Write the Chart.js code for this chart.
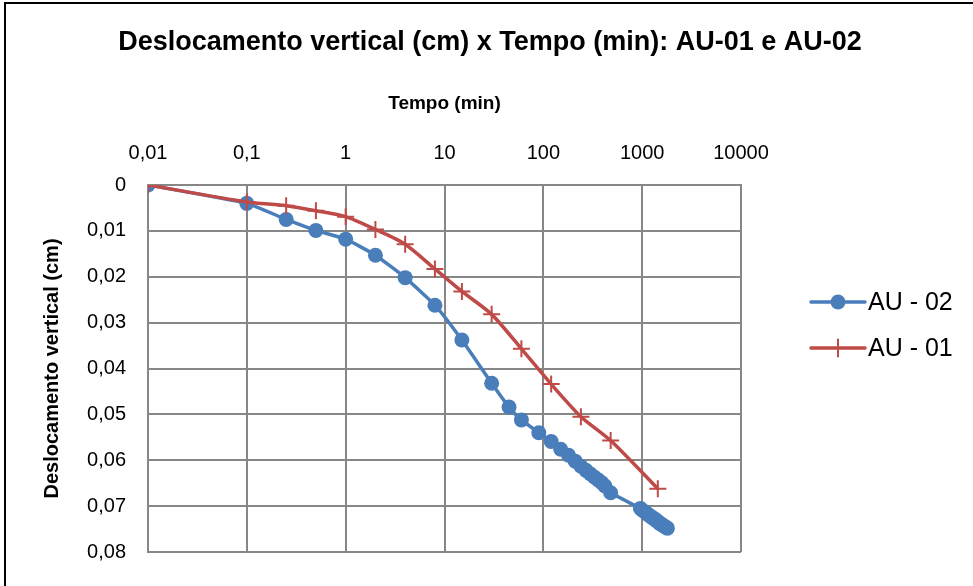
<!DOCTYPE html>
<html>
<head>
<meta charset="utf-8">
<script src="https://cdn.jsdelivr.net/npm/chart.js@4.4.1/dist/chart.umd.min.js"></script>
<style>
  html, body { margin: 0; padding: 0; background: #fff; }
  #wrap { width: 973px; height: 586px; }
</style>
</head>
<body>
<div id="wrap"><canvas id="grafico" width="973" height="586"></canvas></div>
<script>
// Tempo (min) x deslocamento (cm)
const tempoAU02 = [0.01, 0.1, 0.25, 0.5, 1, 2, 4, 8, 15, 30, 45, 60, 90, 120, 150, 180, 210, 240, 270, 300, 330, 360, 390, 420, 480, 960, 1020, 1080, 1140, 1200, 1260, 1320, 1380, 1440, 1500, 1560, 1620, 1680, 1740, 1800];
const deslocAU02 = [0, 0.0040, 0.0075, 0.0099, 0.0118, 0.0153, 0.0202, 0.0262, 0.0338, 0.0432, 0.0484, 0.0512, 0.0540, 0.0559, 0.0576, 0.0589, 0.0602, 0.0613, 0.0622, 0.0630, 0.0637, 0.0643, 0.0649, 0.0656, 0.0671, 0.0705, 0.0710, 0.0713, 0.0718, 0.0721, 0.0725, 0.0727, 0.0731, 0.0733, 0.0738, 0.0739, 0.0742, 0.0744, 0.0746, 0.0748];

const tempoAU01 = [0.01, 0.1, 0.25, 0.5, 1, 2, 4, 8, 15, 30, 60, 120, 240, 480, 1440];
const deslocAU01 = [0, 0.0037, 0.0045, 0.0056, 0.0069, 0.0097, 0.0129, 0.0183, 0.0232, 0.0282, 0.0357, 0.0434, 0.0505, 0.0557, 0.0662];

const xTickValues = [0.01, 0.1, 1, 10, 100, 1000, 10000];
const xTickLabels = ["0,01", "0,1", "1", "10", "100", "1000", "10000"];
const yTickValues = [0, 0.01, 0.02, 0.03, 0.04, 0.05, 0.06, 0.07, 0.08];
const yTickLabels = ["0", "0,01", "0,02", "0,03", "0,04", "0,05", "0,06", "0,07", "0,08"];

const titulo = "Deslocamento vertical (cm) x Tempo (min): AU-01 e AU-02";

const FONTE = '"Liberation Sans", Arial, sans-serif';
const AZUL = "#4A7EBB";
const VERMELHO = "#BE4B48";
const GRADE = "#878787";

function pontos(tempos, valores) {
  return tempos.map((t, i) => ({ x: t, y: valores[i] }));
}

// moldura (so esquerda e topo aparecem no recorte) + titulo centralizado
const moldura = {
  id: "moldura",
  beforeDraw(chart) {
    const ctx = chart.ctx;
    ctx.save();
    ctx.strokeStyle = "#000";
    ctx.lineWidth = 2;
    ctx.beginPath();
    ctx.moveTo(5, 586);
    ctx.lineTo(5, 3);
    ctx.lineTo(973, 3);
    ctx.stroke();

    ctx.fillStyle = "#000";
    ctx.font = "bold 27px " + FONTE;
    ctx.textAlign = "center";
    ctx.textBaseline = "middle";
    ctx.fillText(titulo, 490, 43);
    ctx.restore();
  },
};

// legenda desenhada a mao, na ordem AU - 02, AU - 01
const legenda = {
  id: "legenda",
  afterDraw(chart) {
    const ctx = chart.ctx;
    const itens = [
      { ds: chart.data.datasets[0], y: 302 },
      { ds: chart.data.datasets[1], y: 348 },
    ];
    ctx.save();
    itens.forEach(({ ds, y }) => {
      ctx.strokeStyle = ds.borderColor;
      ctx.lineWidth = ds.borderWidth;
      ctx.lineCap = "round";
      ctx.beginPath();
      ctx.moveTo(811, y);
      ctx.lineTo(865, y);
      ctx.stroke();
      ctx.fillStyle = ds.borderColor;
      ctx.lineWidth = ds.pointBorderWidth || 0.01;
      Chart.helpers.drawPoint(ctx, {
        pointStyle: ds.pointStyle,
        radius: ds.pointRadius,
        borderWidth: ds.pointBorderWidth,
        rotation: 0,
      }, 838, y);
      ctx.fillStyle = "#000";
      ctx.font = "25px " + FONTE;
      ctx.textAlign = "left";
      ctx.textBaseline = "middle";
      ctx.fillText(ds.label, 868, y + 1);
    });
    ctx.restore();
  },
};

const dsAU02 = {
  label: "AU - 02",
  data: pontos(tempoAU02, deslocAU02),
  borderColor: AZUL,
  backgroundColor: AZUL,
  borderWidth: 3.5,
  pointStyle: "circle",
  pointRadius: 7.5,
  pointBorderWidth: 0,
  pointBackgroundColor: AZUL,
  tension: 0.15,
  order: 1,
};
const dsAU01 = {
  label: "AU - 01",
  data: pontos(tempoAU01, deslocAU01),
  borderColor: VERMELHO,
  backgroundColor: VERMELHO,
  borderWidth: 3.5,
  pointStyle: "cross",
  pointRadius: 8.5,
  pointBorderWidth: 2,
  pointBorderColor: VERMELHO,
  tension: 0.25,
  order: 0,
};

const ctx = document.getElementById("grafico").getContext("2d");
const grafico = new Chart(ctx, {
  type: "line",
  data: { datasets: [dsAU02, dsAU01] },
  options: {
    responsive: false,
    devicePixelRatio: 1,
    animation: false,
    layout: { padding: { left: 0, top: 0, right: 232, bottom: 29 } },
    plugins: {
      legend: { display: false },
      tooltip: { enabled: false },
      title: { display: false },
    },
    scales: {
      x: {
        type: "logarithmic",
        position: "top",
        min: 0.01,
        max: 10000,
        afterBuildTicks(scale) {
          scale.ticks = xTickValues.map((v) => ({ value: v }));
        },
        afterFit(scale) {
          scale.height = 185;
        },
        ticks: {
          color: "#000",
          font: { family: FONTE, size: 20 },
          padding: 20,
          maxRotation: 0,
          autoSkip: false,
          callback: (v, i) => xTickLabels[i],
        },
        grid: { color: GRADE, lineWidth: 2, drawTicks: false },
        border: { color: GRADE, width: 2 },
        title: {
          display: true,
          text: "Tempo (min)",
          color: "#000",
          font: { family: FONTE, size: 19, weight: "bold" },
          padding: { top: 92, bottom: 0 },
        },
      },
      y: {
        type: "linear",
        reverse: true,
        min: 0,
        max: 0.08,
        afterBuildTicks(scale) {
          scale.ticks = yTickValues.map((v) => ({ value: v }));
        },
        afterFit(scale) {
          scale.width = 148;
        },
        ticks: {
          color: "#000",
          font: { family: FONTE, size: 20 },
          padding: 22,
          callback: (v, i) => yTickLabels[i],
        },
        grid: { color: GRADE, lineWidth: 2, drawTicks: false },
        border: { color: GRADE, width: 2 },
        title: {
          display: true,
          text: "Deslocamento vertical (cm)",
          color: "#000",
          font: { family: FONTE, size: 20, weight: "bold" },
          padding: { top: 40, bottom: 0 },
        },
      },
    },
  },
  plugins: [moldura, legenda],
});
</script>
</body>
</html>
